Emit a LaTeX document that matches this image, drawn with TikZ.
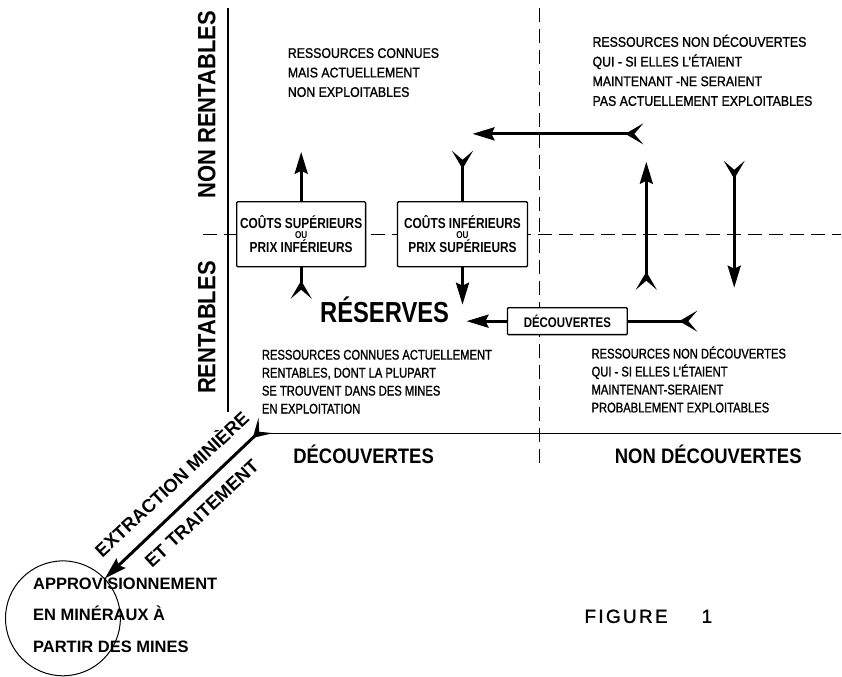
\documentclass[tikz,border=0pt]{standalone}
\usepackage{fontspec}
\usetikzlibrary{arrows.meta}
\newfontfamily\txtfont[FakeStretch=0.88, FakeBold=1.2]{Liberation Sans}
\newfontfamily\txtfontb[FakeStretch=0.80, FakeBold=1.2]{Liberation Sans}
\newfontfamily\condfont[FakeStretch=0.82]{Liberation Sans}
\newfontfamily\headfont[FakeStretch=0.88]{Liberation Sans}
\newfontfamily\plainfont{Liberation Sans}
\newfontfamily\figfont[LetterSpace=12, FakeBold=1.2]{Liberation Sans}
\tikzset{
  tete/.style = {line width=3pt, -{Stealth[length=22pt, width=13pt, inset=3pt]}},
  queue/.style = {line width=3pt, {Stealth[reversed, length=18pt, width=21pt, inset=9pt]}-},
  tetequeue/.style = {line width=3pt,
                {Stealth[reversed, length=18pt, width=21pt, inset=9pt]}-{Stealth[length=22pt, width=13pt, inset=3pt]}},
  axe/.style = {line width=1.8pt},
  pointille/.style = {line width=1pt, dash pattern=on 14pt off 7pt},
  cadre/.style = {draw, line width=1.3pt, fill=white, rounded corners=1pt,
                inner sep=0pt, align=center},
  bloc/.style = {anchor=north west, inner sep=0pt, align=left}
}

\begin{document}
\begin{tikzpicture}[x=1pt, y=-1pt]
	\def \xa{228} % axe vertical
	\def \ya{434} % axe horizontal
	\def \xd{540} % decouvertes / non decouvertes
	\def \yd{235} % rentables / non rentables
	
	\fill[white] (0,0) rectangle (842,673);
	
	% Axes
	\draw[axe] (\xa,8) -- (\xa,412);
	\draw[axe] (255,\ya) -- (842,\ya);
	\draw[pointille] (\xd,8) -- (\xd,470);
	\draw[pointille] (203,\yd) -- (842,\yd);
	
	% Titres des axes
	\node[font=\headfont\bfseries\fontsize{25}{25}\selectfont, rotate=90] (nonrent) at (207,105) {NON RENTABLES};
	\node[font=\headfont\bfseries\fontsize{25}{25}\selectfont, rotate=90] (rent) at (207,328) {RENTABLES};
	\node[font=\headfont\bfseries\fontsize{21}{21}\selectfont] (dec) at (364,455) {DÉCOUVERTES};
	\node[font=\headfont\bfseries\fontsize{21}{21}\selectfont] (nondec) at (709,455) {NON DÉCOUVERTES};
	
	% Textes des cases
	\node[bloc, font=\txtfont\fontsize{14}{19.5}\selectfont] (nrconnues) at (288,48)
		{RESSOURCES CONNUES\\MAIS ACTUELLEMENT\\NON EXPLOITABLES};
	\node[bloc, font=\txtfont\fontsize{14}{19.7}\selectfont] (nrinconnues) at (593,34.5)
		{RESSOURCES NON DÉCOUVERTES\\QUI - SI ELLES L’ÉTAIENT\\MAINTENANT -NE SERAIENT\\PAS ACTUELLEMENT EXPLOITABLES};
	\node[bloc, font=\txtfontb\fontsize{14}{18}\selectfont] (rconnues) at (262,350)
		{RESSOURCES CONNUES ACTUELLEMENT\\RENTABLES, DONT LA PLUPART\\SE TROUVENT DANS DES MINES\\EN EXPLOITATION};
	\node[bloc, font=\txtfontb\fontsize{14}{18}\selectfont] (rinconnues) at (592,346.5)
		{RESSOURCES NON DÉCOUVERTES\\QUI - SI ELLES L’ÉTAIENT\\MAINTENANT-SERAIENT\\PROBABLEMENT EXPLOITABLES};
	
	% Cadres
	\node[cadre, minimum width=129pt, minimum height=65pt, font=\condfont\bfseries\fontsize{14.5}{10}\selectfont] (csup) at (301.5,234.5)
		{COÛTS SUPÉRIEURS\\{\fontsize{10}{10}\selectfont OU}\\PRIX INFÉRIEURS};
	\node[cadre, minimum width=130pt, minimum height=65pt, font=\condfont\bfseries\fontsize{14.5}{10}\selectfont] (cinf) at (463,234.5)
		{COÛTS INFÉRIEURS\\{\fontsize{10}{10}\selectfont OU}\\PRIX SUPÉRIEURS};
	\node[cadre, minimum width=120pt, minimum height=27pt, font=\condfont\bfseries\fontsize{14}{14}\selectfont] (decbox) at (568,321.5) {DÉCOUVERTES};
	\node[inner sep=0pt, font=\condfont\bfseries\fontsize{29}{29}\selectfont] (reserves) at (385,310) {RÉSERVES};
	
	% Fleches
	\coordinate (csupt) at (301.5,152);
	\coordinate (csupq) at (301.5,299);
	\draw[tete] (csup) -- (csupt);
	\draw[queue] (csupq) -- (csup);
	\coordinate (cinfq) at (463,151);
	\coordinate (cinft) at (463,305);
	\draw[queue] (cinfq) -- (cinf);
	\draw[tete] (cinf) -- (cinft);
	\coordinate (hq) at (644,134);
	\coordinate (ht) at (473,134);
	\draw[tetequeue] (hq) -- (ht);
	\coordinate (mq) at (647,290);
	\coordinate (mt) at (647,162);
	\draw[tetequeue] (mq) -- (mt);
	\coordinate (dq) at (735,161);
	\coordinate (dt) at (735,288);
	\draw[tetequeue] (dq) -- (dt);
	\coordinate (rt) at (467,321.5);
	\coordinate (dcq) at (698,321.5);
	\draw[tete] (decbox) -- (rt);
	\draw[queue] (dcq) -- (decbox);
	
	% Extraction
	\node[circle, draw, line width=1pt, minimum size=115pt, inner sep=0pt] (mines) at (63,619) {};
	\coordinate (extr) at (266,426);
	\draw[tetequeue] (extr) -- (mines);
	\node[font=\plainfont\bfseries\fontsize{18.5}{18.5}\selectfont, rotate=43] (extraction) at (171,484) {EXTRACTION MINIÈRE};
	\node[font=\plainfont\bfseries\fontsize{18.5}{18.5}\selectfont, rotate=43] (traitement) at (202,514) {ET TRAITEMENT};
	\node[bloc, font=\plainfont\bfseries\fontsize{16.5}{31.5}\selectfont] (appro) at (33,578)
		{APPROVISIONNEMENT\\EN MINÉRAUX À\\PARTIR DES MINES};
	
	\node[font=\figfont\fontsize{19}{19}\selectfont] (figure) at (649,617) {FIGURE\hspace{34pt}1};
	
\end{tikzpicture}
\end{document}
